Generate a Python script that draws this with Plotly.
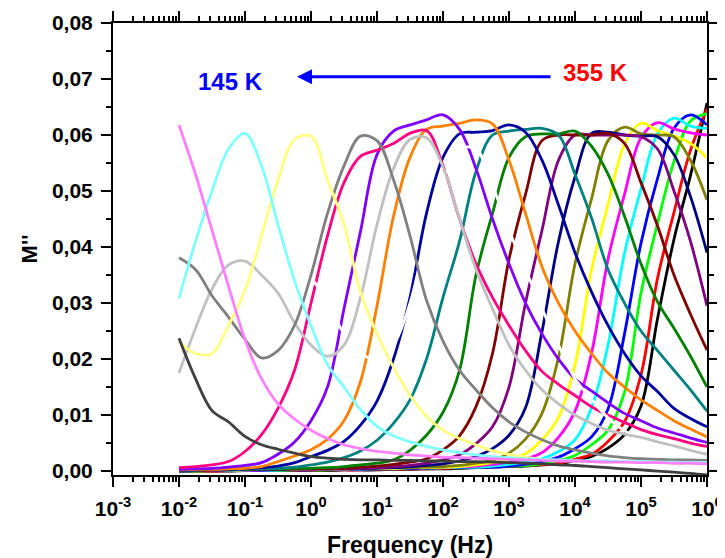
import plotly.graph_objects as go

# log10 of frequency (Hz) for the sampled points
log_freq = [-2.0, -1.75, -1.5, -1.25, -1.0, -0.75, -0.5, -0.25, 0.0, 0.25, 0.5,
            0.75, 1.0, 1.25, 1.5, 1.75, 2.0, 2.25, 2.5, 2.75, 3.0, 3.25, 3.5,
            3.75, 4.0, 4.25, 4.5, 4.75, 5.0, 5.25, 5.5, 5.75, 6.0]
freq_hz = [10 ** e for e in log_freq]

m_black = [0.0000, 0.0000, 0.0000, 0.0000, 0.0001, 0.0001, 0.0001, 0.0001, 0.0001, 0.0001, 0.0002,
           0.0002, 0.0002, 0.0003, 0.0003, 0.0004, 0.0004, 0.0005, 0.0006, 0.0007, 0.0008, 0.0009,
           0.0011, 0.0013, 0.0019, 0.0026, 0.0041, 0.0065, 0.0116, 0.0272, 0.0414, 0.0528, 0.0657]
m_red = [0.0000, 0.0000, 0.0000, 0.0001, 0.0001, 0.0001, 0.0001, 0.0001, 0.0001, 0.0002, 0.0002,
         0.0002, 0.0003, 0.0003, 0.0004, 0.0004, 0.0005, 0.0006, 0.0007, 0.0008, 0.0009, 0.0010,
         0.0011, 0.0014, 0.0021, 0.0030, 0.0053, 0.0088, 0.0172, 0.0344, 0.0462, 0.0573, 0.0647]
m_green = [0.0000, 0.0000, 0.0001, 0.0001, 0.0001, 0.0001, 0.0001, 0.0002, 0.0002, 0.0002, 0.0003,
           0.0003, 0.0004, 0.0004, 0.0005, 0.0005, 0.0006, 0.0006, 0.0007, 0.0008, 0.0009, 0.0010,
           0.0013, 0.0019, 0.0028, 0.0047, 0.0073, 0.0141, 0.0318, 0.0442, 0.0553, 0.0625, 0.0638]
m_blue = [0.0000, 0.0001, 0.0001, 0.0001, 0.0001, 0.0001, 0.0002, 0.0002, 0.0002, 0.0003, 0.0003,
          0.0003, 0.0004, 0.0004, 0.0005, 0.0005, 0.0006, 0.0006, 0.0007, 0.0007, 0.0009, 0.0012,
          0.0017, 0.0025, 0.0040, 0.0061, 0.0111, 0.0245, 0.0407, 0.0522, 0.0612, 0.0636, 0.0618]
m_cyan = [0.0001, 0.0001, 0.0001, 0.0001, 0.0002, 0.0002, 0.0002, 0.0003, 0.0003, 0.0003, 0.0004,
          0.0004, 0.0005, 0.0005, 0.0006, 0.0006, 0.0006, 0.0007, 0.0007, 0.0009, 0.0012, 0.0016,
          0.0022, 0.0035, 0.0056, 0.0113, 0.0225, 0.0389, 0.0504, 0.0602, 0.0630, 0.0616, 0.0612]
m_magenta = [0.0001, 0.0001, 0.0001, 0.0002, 0.0002, 0.0002, 0.0003, 0.0003, 0.0003, 0.0004, 0.0004,
             0.0005, 0.0005, 0.0006, 0.0006, 0.0006, 0.0007, 0.0008, 0.0009, 0.0012, 0.0016, 0.0022,
             0.0033, 0.0060, 0.0107, 0.0210, 0.0378, 0.0494, 0.0595, 0.0622, 0.0611, 0.0604, 0.0600]
m_yellow = [0.0001, 0.0001, 0.0002, 0.0002, 0.0002, 0.0003, 0.0003, 0.0003, 0.0004, 0.0004, 0.0004,
            0.0005, 0.0005, 0.0005, 0.0006, 0.0006, 0.0007, 0.0008, 0.0011, 0.0015, 0.0020, 0.0031,
            0.0056, 0.0096, 0.0190, 0.0359, 0.0476, 0.0583, 0.0621, 0.0608, 0.0598, 0.0585, 0.0559]
m_dark_yellow = [0.0001, 0.0002, 0.0002, 0.0002, 0.0003, 0.0003, 0.0003, 0.0004, 0.0004, 0.0004, 0.0005,
                 0.0005, 0.0006, 0.0006, 0.0006, 0.0007, 0.0008, 0.0010, 0.0014, 0.0019, 0.0032, 0.0057,
                 0.0103, 0.0203, 0.0370, 0.0486, 0.0590, 0.0614, 0.0602, 0.0600, 0.0597, 0.0555, 0.0484]
m_navy = [0.0001, 0.0002, 0.0002, 0.0002, 0.0003, 0.0003, 0.0003, 0.0004, 0.0004, 0.0004, 0.0005,
          0.0005, 0.0005, 0.0006, 0.0008, 0.0010, 0.0013, 0.0018, 0.0026, 0.0040, 0.0064, 0.0113,
          0.0249, 0.0410, 0.0525, 0.0603, 0.0605, 0.0600, 0.0598, 0.0597, 0.0565, 0.0490, 0.0390]
m_purple = [0.0002, 0.0002, 0.0002, 0.0003, 0.0003, 0.0003, 0.0003, 0.0004, 0.0004, 0.0004, 0.0004,
            0.0005, 0.0006, 0.0008, 0.0010, 0.0014, 0.0020, 0.0029, 0.0049, 0.0079, 0.0150, 0.0300,
            0.0430, 0.0555, 0.0600, 0.0600, 0.0600, 0.0600, 0.0597, 0.0575, 0.0500, 0.0410, 0.0295]
m_wine = [0.0002, 0.0002, 0.0002, 0.0003, 0.0003, 0.0003, 0.0004, 0.0004, 0.0004, 0.0005, 0.0005,
          0.0007, 0.0009, 0.0012, 0.0016, 0.0022, 0.0038, 0.0063, 0.0115, 0.0210, 0.0378, 0.0494,
          0.0590, 0.0600, 0.0600, 0.0600, 0.0603, 0.0585, 0.0515, 0.0438, 0.0350, 0.0280, 0.0216]
m_olive = [0.0002, 0.0002, 0.0003, 0.0003, 0.0003, 0.0004, 0.0004, 0.0005, 0.0005, 0.0006, 0.0008,
           0.0011, 0.0014, 0.0020, 0.0037, 0.0064, 0.0105, 0.0180, 0.0350, 0.0460, 0.0560, 0.0597,
           0.0602, 0.0602, 0.0607, 0.0580, 0.0530, 0.0455, 0.0370, 0.0302, 0.0255, 0.0205, 0.0150]
m_dark_cyan = [0.0002, 0.0002, 0.0003, 0.0003, 0.0004, 0.0004, 0.0005, 0.0007, 0.0011, 0.0016, 0.0024,
               0.0036, 0.0055, 0.0085, 0.0127, 0.0200, 0.0310, 0.0410, 0.0535, 0.0600, 0.0607, 0.0610,
               0.0612, 0.0600, 0.0530, 0.0452, 0.0360, 0.0300, 0.0250, 0.0215, 0.0180, 0.0145, 0.0107]
m_royal = [0.0002, 0.0002, 0.0003, 0.0003, 0.0004, 0.0006, 0.0009, 0.0015, 0.0026, 0.0037, 0.0053,
           0.0082, 0.0125, 0.0200, 0.0310, 0.0460, 0.0560, 0.0602, 0.0605, 0.0608, 0.0618, 0.0605,
           0.0555, 0.0475, 0.0390, 0.0320, 0.0260, 0.0210, 0.0170, 0.0142, 0.0112, 0.0094, 0.0079]
m_orange = [0.0002, 0.0003, 0.0003, 0.0004, 0.0005, 0.0008, 0.0017, 0.0027, 0.0038, 0.0057, 0.0090,
            0.0160, 0.0295, 0.0455, 0.0560, 0.0610, 0.0616, 0.0621, 0.0627, 0.0620, 0.0555, 0.0460,
            0.0365, 0.0300, 0.0250, 0.0210, 0.0175, 0.0150, 0.0127, 0.0108, 0.0090, 0.0075, 0.0061]
m_violet = [0.0003, 0.0004, 0.0005, 0.0007, 0.0010, 0.0015, 0.0030, 0.0052, 0.0090, 0.0150, 0.0290,
            0.0428, 0.0565, 0.0607, 0.0618, 0.0627, 0.0636, 0.0610, 0.0540, 0.0450, 0.0370, 0.0300,
            0.0245, 0.0200, 0.0165, 0.0143, 0.0122, 0.0103, 0.0090, 0.0077, 0.0068, 0.0059, 0.0051]
m_pink = [0.0006, 0.0008, 0.0011, 0.0017, 0.0035, 0.0065, 0.0112, 0.0180, 0.0300, 0.0420, 0.0515,
          0.0562, 0.0573, 0.0585, 0.0603, 0.0608, 0.0545, 0.0450, 0.0370, 0.0310, 0.0260, 0.0215,
          0.0178, 0.0155, 0.0135, 0.0115, 0.0100, 0.0087, 0.0074, 0.0065, 0.0058, 0.0050, 0.0044]
m_white = [0.0200, 0.0240, 0.0290, 0.0330, 0.0360, 0.0380, 0.0385, 0.0370, 0.0345, 0.0300, 0.0245,
           0.0210, 0.0200, 0.0225, 0.0300, 0.0420, 0.0520, 0.0575, 0.0575, 0.0510, 0.0430, 0.0360,
           0.0290, 0.0225, 0.0165, 0.0128, 0.0095, 0.0072, 0.0058, 0.0048, 0.0042, 0.0038, 0.0035]
m_lt_gray = [0.0175, 0.0255, 0.0325, 0.0368, 0.0375, 0.0350, 0.0318, 0.0265, 0.0225, 0.0205, 0.0225,
             0.0310, 0.0440, 0.0540, 0.0592, 0.0595, 0.0543, 0.0450, 0.0360, 0.0290, 0.0225, 0.0180,
             0.0145, 0.0120, 0.0100, 0.0085, 0.0073, 0.0066, 0.0060, 0.0052, 0.0045, 0.0037, 0.0030]
m_gray = [0.0381, 0.0360, 0.0313, 0.0275, 0.0235, 0.0202, 0.0215, 0.0260, 0.0350, 0.0460, 0.0545,
          0.0598, 0.0590, 0.0520, 0.0420, 0.0305, 0.0232, 0.0180, 0.0145, 0.0113, 0.0088, 0.0070,
          0.0056, 0.0045, 0.0038, 0.0032, 0.0027, 0.0024, 0.0022, 0.0021, 0.0020, 0.0020, 0.0019]
m_lt_yellow = [0.0232, 0.0210, 0.0210, 0.0260, 0.0323, 0.0420, 0.0520, 0.0592, 0.0598, 0.0520, 0.0440,
               0.0320, 0.0245, 0.0185, 0.0135, 0.0098, 0.0073, 0.0058, 0.0047, 0.0036, 0.0030, 0.0025,
               0.0021, 0.0019, 0.0018, 0.0017, 0.0016, 0.0016, 0.0015, 0.0015, 0.0014, 0.0014, 0.0014]
m_lt_cyan = [0.0309, 0.0410, 0.0500, 0.0575, 0.0603, 0.0545, 0.0440, 0.0340, 0.0260, 0.0190, 0.0150,
             0.0110, 0.0080, 0.0063, 0.0052, 0.0044, 0.0038, 0.0033, 0.0029, 0.0026, 0.0024, 0.0022,
             0.0021, 0.0020, 0.0019, 0.0018, 0.0018, 0.0017, 0.0017, 0.0016, 0.0016, 0.0015, 0.0015]
m_lt_magenta = [0.0618, 0.0530, 0.0430, 0.0330, 0.0235, 0.0165, 0.0120, 0.0093, 0.0073, 0.0058, 0.0047,
                0.0040, 0.0035, 0.0032, 0.0029, 0.0027, 0.0025, 0.0024, 0.0023, 0.0022, 0.0021, 0.0020,
                0.0019, 0.0018, 0.0018, 0.0017, 0.0016, 0.0016, 0.0015, 0.0015, 0.0014, 0.0014, 0.0013]
m_dark_gray = [0.0237, 0.0165, 0.0108, 0.0088, 0.0062, 0.0047, 0.0039, 0.0032, 0.0026, 0.0023, 0.0021,
               0.0020, 0.0020, 0.0019, 0.0019, 0.0018, 0.0018, 0.0017, 0.0017, 0.0016, 0.0015, 0.0014,
               0.0013, 0.0011, 0.0010, 0.0008, 0.0006, 0.0004, 0.0002, 0.0000, -0.0002, -0.0004, -0.0007]

# drawing order (later traces are on top), with their colours
series = [
    ("black", "#000000", m_black),
    ("red", "#FF0000", m_red),
    ("green", "#00FF00", m_green),
    ("blue", "#0000FF", m_blue),
    ("cyan", "#00FFFF", m_cyan),
    ("magenta", "#FF00FF", m_magenta),
    ("yellow", "#FFFF00", m_yellow),
    ("dark yellow", "#808000", m_dark_yellow),
    ("navy", "#000080", m_navy),
    ("purple", "#800080", m_purple),
    ("wine", "#800000", m_wine),
    ("olive", "#008000", m_olive),
    ("dark cyan", "#008080", m_dark_cyan),
    ("royal", "#0000A0", m_royal),
    ("orange", "#FF8000", m_orange),
    ("violet", "#8000FF", m_violet),
    ("pink", "#FF0080", m_pink),
    ("white", "#FFFFFF", m_white),
    ("light gray", "#C0C0C0", m_lt_gray),
    ("gray", "#808080", m_gray),
    ("light yellow", "#FFFF80", m_lt_yellow),
    ("light cyan", "#80FFFF", m_lt_cyan),
    ("light magenta", "#FF80FF", m_lt_magenta),
    ("dark gray", "#404040", m_dark_gray),
]

x_tick_vals = [1e-3, 1e-2, 1e-1, 1e0, 1e1, 1e2, 1e3, 1e4, 1e5, 1e6]
x_tick_text = ["10<sup>-3</sup>", "10<sup>-2</sup>", "10<sup>-1</sup>", "10<sup>0</sup>",
               "10<sup>1</sup>", "10<sup>2</sup>", "10<sup>3</sup>", "10<sup>4</sup>",
               "10<sup>5</sup>", "10<sup>6</sup>"]
x_minor_vals = [m * 10.0 ** e for e in range(-3, 6) for m in range(2, 10)]

FONT = "Arial, 'Liberation Sans', sans-serif"

fig = go.Figure()
for name, color, vals in series:
    fig.add_trace(go.Scatter(
        x=freq_hz, y=vals, mode="lines", name=name,
        line=dict(color=color, width=2.8, shape="spline", smoothing=1.0),
        hoverinfo="skip",
    ))

axis_common = dict(
    showline=True, linewidth=2, linecolor="black", mirror="ticks",
    ticks="outside", ticklen=10, tickwidth=2, tickcolor="black",
    showgrid=False, zeroline=False, automargin=False, ticklabelstandoff=4,
    tickfont=dict(family=FONT, size=21, color="black", weight="bold"),
)

fig.update_xaxes(
    type="log", range=[-3, 6],
    tickmode="array", tickvals=x_tick_vals, ticktext=x_tick_text,
    minor=dict(tickmode="array", tickvals=x_minor_vals, ticks="outside", ticklen=5,
               tickwidth=1.5, tickcolor="black", showgrid=False),
    title=dict(text="<b>Frequency (Hz)</b>", font=dict(family=FONT, size=23, color="black"), standoff=24),
    **axis_common,
)
fig.update_yaxes(
    range=[-0.0007, 0.08], tick0=0, dtick=0.01, tickformat=".2f",
    minor=dict(tick0=0, dtick=0.005, ticks="outside", ticklen=5, tickwidth=1.5,
               tickcolor="black", showgrid=False),
    title=dict(text="<b>M''</b>", font=dict(family=FONT, size=22, color="black"), standoff=8),
    **axis_common,
)

fig.add_annotation(x=-1.227, y=0.0695, xref="x", yref="y", text="<b>145 K</b>",
                   showarrow=False, font=dict(family=FONT, size=24, color="#0000FF"))
fig.add_annotation(x=4.318, y=0.0711, xref="x", yref="y", text="<b>355 K</b>",
                   showarrow=False, font=dict(family=FONT, size=24, color="#FF0000"))
fig.add_annotation(x=-0.212, y=0.0704, ax=3.652, ay=0.0704, xref="x", yref="y",
                   axref="x", ayref="y", text="", showarrow=True, arrowhead=2,
                   arrowsize=1, arrowwidth=3, arrowcolor="#0000FF")

# the page adds an 8 px body margin, so the figure is sized to fit the window
fig.update_layout(
    width=717, height=550,
    margin=dict(l=105, r=18, t=15, b=83, autoexpand=False),
    paper_bgcolor="white", plot_bgcolor="white",
    showlegend=False, separators=",.",
    font=dict(family=FONT, color="black"),
)

fig.write_html("out.html")
